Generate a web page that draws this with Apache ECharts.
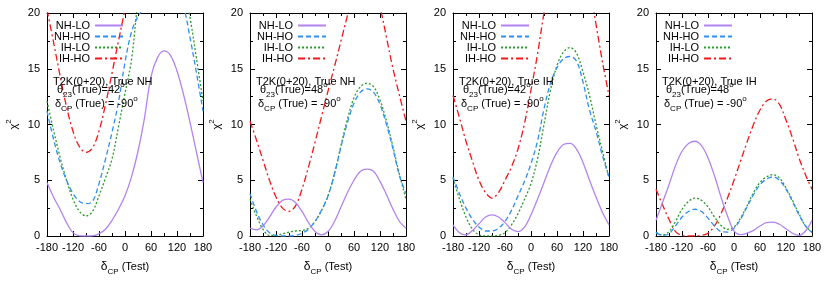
<!DOCTYPE html>
<html><head><meta charset="utf-8">
<script src="https://cdn.jsdelivr.net/npm/echarts@6/dist/echarts.min.js"></script>
<style>html,body{margin:0;padding:0;background:#fff}#c{width:830px;height:284px}</style>
</head><body><div id="c"></div>
<script>
// ---- data ----
const deltaTest = [-180,-165,-150,-135,-120,-105,-90,-75,-60,-45,-30,-15,0,15,30,45,60,75,90,105,120,135,150,165,180];
const xTicks = [-180,-120,-60,0,60,120,180];
const yTicks = [0,5,10,15,20];
const seriesNames = ['NH-LO','NH-HO','IH-LO','IH-HO'];
const panelTrueHier = ['True NH','True NH','True IH','True IH'];
const panelTheta = ['42','48','42','48'];
const panelDeltaTrue = ['-90','-90','-90','-90'];

// Panel 1: True NH, theta23 = 42
const p1_NH_LO = [4.8,3.5,2.4,1.2,0.3,0.02,0,0.02,0.2,0.6,1.4,2.4,3.6,5.3,7.6,10.6,14.3,16.0,16.6,16.2,14.8,12.7,10.2,7.5,4.8];
const p1_NH_HO = [11.2,8.7,6.6,5.0,3.8,3.1,2.9,3.1,4.7,6.9,9.3,12.0,15.6,18.3,19.7,20.5,21.2,21.5,21.6,21.6,21.3,20.5,17.8,14.6,11.2];
const p1_IH_LO = [12.1,9.5,7.1,5.0,3.3,2.2,1.8,2.2,3.6,5.2,6.9,9.8,12.8,15.8,21.0,24,26,27,27,26.5,25,22.5,19.6,15.9,12.1];
const p1_IH_HO = [20.3,17.4,14.4,11.6,9.4,8.0,7.5,7.9,9.4,11.8,14.6,17.5,20.4,24,27,30,32,33,33,32,30,28,25.5,23,20.3];
// Panel 2: True NH, theta23 = 48
const p2_NH_LO = [0.7,0.55,0.9,1.7,2.6,3.2,3.3,3.0,2.2,1.2,0.4,0.1,0.4,1.3,2.6,3.9,5.0,5.8,6.0,5.8,4.9,3.7,2.4,1.3,0.7];
const p2_NH_HO = [3.8,2.2,1.0,0.3,0.05,0,0,0.05,0.25,0.6,1.3,2.3,3.6,5.6,8.0,10.2,11.9,12.9,13.2,12.9,11.8,10.0,7.8,5.4,3.8];
const p2_IH_LO = [3.3,1.8,0.6,0.05,0.05,0.2,0.35,0.45,0.5,0.7,1.3,2.3,3.6,5.6,8.1,10.5,12.4,13.4,13.7,13.4,12.2,10.3,8.0,5.5,3.3];
const p2_IH_HO = [10.3,8.6,6.8,5.0,3.5,2.5,2.2,2.7,4.2,6.2,8.4,10.7,13.0,15.2,17.5,19.8,22,23.5,24,23,20.6,17.8,15.0,12.6,10.3];
// Panel 3: True IH, theta23 = 42
const p3_NH_LO = [1.0,0.3,0.1,0.5,1.1,1.7,1.9,1.7,1.2,0.6,0.4,0.8,1.9,3.3,4.8,6.3,7.5,8.2,8.3,7.8,6.6,5.0,3.5,2.1,1.0];
const p3_NH_HO = [5.3,3.8,2.5,1.5,0.8,0.45,0.45,0.7,1.3,2.3,3.6,4.9,6.5,8.5,11.4,13.7,15.1,15.9,16.1,15.7,13.8,11.3,9.4,7.2,5.3];
const p3_IH_LO = [5.2,3.3,1.7,0.6,0.1,0,0,0.05,0.3,1.0,2.0,3.3,4.7,6.9,10.0,13.1,15.3,16.5,16.9,16.4,14.7,12.6,10.0,7.6,5.2];
const p3_IH_HO = [12.6,10.6,8.5,6.7,5.0,3.9,3.4,3.9,5.0,6.2,7.8,10.1,13.1,16.3,20.0,23,25,26,26,25.5,24.5,22.5,19.0,15.6,12.6];
// Panel 4: True IH, theta23 = 48
const p4_NH_LO = [1.4,3.0,4.6,6.3,7.6,8.3,8.5,8.1,7.0,5.4,3.5,1.8,0.45,0.12,0.25,0.5,0.9,1.2,1.25,1.05,0.65,0.25,0.05,0.45,1.4];
const p4_NH_HO = [0.3,0.05,0.2,0.9,1.7,2.2,2.4,2.2,1.6,0.9,0.4,0.35,0.7,1.5,2.6,3.7,4.6,5.1,5.3,5.0,4.2,3.1,1.9,0.9,0.3];
const p4_IH_LO = [0.35,0.1,0.4,1.3,2.4,3.1,3.4,3.2,2.6,1.7,0.95,0.6,0.8,1.6,2.7,3.9,4.8,5.3,5.5,5.2,4.3,3.2,2.0,0.9,0.35];
const p4_IH_HO = [4.2,2.8,1.5,0.4,0.05,0,0,0.05,0.25,0.9,2.0,3.4,5.0,6.7,8.4,10.0,11.3,12.1,12.3,11.8,10.4,8.8,7.0,5.5,4.2];

const panels = [
  [p1_NH_LO,p1_NH_HO,p1_IH_LO,p1_IH_HO],
  [p2_NH_LO,p2_NH_HO,p2_IH_LO,p2_IH_HO],
  [p3_NH_LO,p3_NH_HO,p3_IH_LO,p3_IH_HO],
  [p4_NH_LO,p4_NH_HO,p4_IH_LO,p4_IH_HO]
];

// ---- styles / layout ----
const FONT = "'Liberation Sans', Arial, sans-serif";
const gridLefts = [47, 250, 453, 656];
const gridTop = 13, gridW = 156, gridH = 223;
const lineStyles = [
  {color:'#b284f0', width:1.3, type:'solid'},
  {color:'#2e90f0', width:1.3, type:[5,3]},
  {color:'#2a9a2a', width:1.3, type:[2,2]},
  {color:'#f01818', width:1.3, type:[7,3,2,3]}
];
const richBase = {
  a:{fontSize:11, fontFamily:FONT, color:'#000', lineHeight:18, verticalAlign:'middle'},
  s:{fontSize:8, fontFamily:FONT, color:'#000', lineHeight:8, verticalAlign:'bottom'},
  p:{fontSize:8, fontFamily:FONT, color:'#000', lineHeight:8, verticalAlign:'top'}
};

const grid = [], xAxis = [], yAxis = [], series = [], legend = [], graphic = [];
const tickCommon = {inside:true, length:5, lineStyle:{color:'#000', width:1}};
const minorCommon = {show:true, splitNumber:2, length:3, lineStyle:{color:'#000', width:1}};
const axisLineCommon = {show:true, onZero:false, lineStyle:{color:'#000', width:1}};

panels.forEach((curves, i) => {
  const gl = gridLefts[i];
  grid.push({left:gl, top:gridTop, width:gridW, height:gridH, containLabel:false});
  const xBase = {type:'value', gridIndex:i, min:xTicks[0], max:xTicks[xTicks.length-1], interval:xTicks[1]-xTicks[0],
    axisLine:axisLineCommon, axisTick:tickCommon, minorTick:minorCommon, splitLine:{show:false}, minorSplitLine:{show:false}};
  xAxis.push(Object.assign({}, xBase, {position:'bottom',
    axisLabel:{show:true, color:'#000', fontSize:11, fontFamily:FONT, margin:6, showMinLabel:true, showMaxLabel:true},
    name:'{d|δ}{s|CP}{a| (Test)}', nameLocation:'middle', nameGap:22,
    nameTextStyle:{rich:richBase}}));
  xAxis.push(Object.assign({}, xBase, {position:'top', axisLabel:{show:false}}));
  const yBase = {type:'value', gridIndex:i, min:yTicks[0], max:yTicks[yTicks.length-1], interval:yTicks[1]-yTicks[0],
    axisLine:axisLineCommon, axisTick:tickCommon, minorTick:minorCommon, splitLine:{show:false}, minorSplitLine:{show:false}};
  yAxis.push(Object.assign({}, yBase, {position:'left',
    axisLabel:{show:true, color:'#000', fontSize:11, fontFamily:FONT, margin:7},
    name:'{a|χ}{p|2}', nameLocation:'middle', nameGap:24, nameRotate:90,
    nameTextStyle:{rich:richBase}}));
  yAxis.push(Object.assign({}, yBase, {position:'right', axisLabel:{show:false}}));

  curves.forEach((vals, k) => {
    series.push({
      type:'line', name:seriesNames[k], xAxisIndex:2*i, yAxisIndex:2*i,
      data: deltaTest.map((d, j) => [d, vals[j]]),
      symbol:'none', showSymbol:false, smooth:0.35, clip:true,
      lineStyle:lineStyles[k], itemStyle:{color:lineStyles[k].color},
      emphasis:{disabled:true}, z:10-k
    });
  });

  legend.push({orient:'vertical', left:gl+7, top:20, padding:0, align:'right',
    itemWidth:28, itemHeight:8, itemGap:0, selectedMode:false,
    itemStyle:{opacity:0, color:'transparent', borderColor:'transparent', borderWidth:0},
    textStyle:{fontSize:11, fontFamily:FONT, color:'#000', lineHeight:11},
    data:seriesNames});

  graphic.push({type:'text', left:gl+6, top:76, z:100,
    style:{text:'T2K(0+20), ' + panelTrueHier[i], font:'11px ' + FONT, fill:'#000'}});
  graphic.push({type:'text', left:gl+10, top:81, z:100,
    style:{text:'{a|θ}{s|23}{a|(True)=' + panelTheta[i] + '}{p|o}', rich:richBase}});
  graphic.push({type:'text', left:gl+8, top:95, z:100,
    style:{text:'{a|δ}{s|CP}{a| (True) = ' + panelDeltaTrue[i] + '}{p|o}', rich:richBase}});
});

const chart = echarts.init(document.getElementById('c'), null, {renderer:'canvas'});
chart.setOption({
  animation:false, backgroundColor:'#fff',
  textStyle:{fontFamily:FONT},
  grid, xAxis, yAxis, series, legend, graphic
});
</script></body></html>
